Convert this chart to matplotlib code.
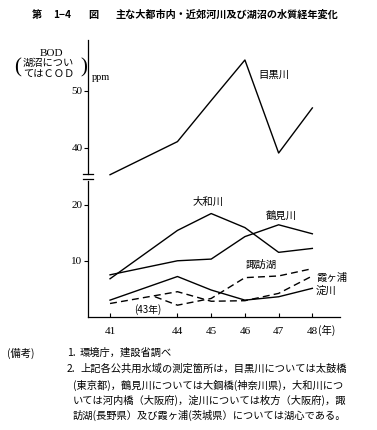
import numpy as np
import matplotlib
matplotlib.use("Agg")
import matplotlib.pyplot as plt

plt.rcParams['font.family'] = ['Liberation Serif', 'Noto Sans CJK JP', 'DejaVu Sans']

# data (昭和 years, BOD/COD ppm)
years = [41, 44, 45, 46, 47, 48]
meguro = [35.3, 41.1, 48.3, 55.4, 39.1, 47.0]
yamato = [6.8, 15.4, 18.4, 15.9, 11.5, 12.2]
tsurumi = [7.5, 10.0, 10.3, 14.3, 16.4, 14.8]
yodo = [3.0, 7.2, 4.8, 3.0, 3.6, 5.1]
kasumi = [2.4, 4.5, 2.8, 2.9, 4.2, 7.3]
suwa_years = [43, 44, 45, 46, 47, 48]
suwa = [3.6, 2.1, 3.3, 7.0, 7.3, 8.6]

tick_years = [41, 44, 45, 46, 47, 48]
tick_labels = ['41', '44', '45', '46', '47', '48']

cjk = ['Noto Sans CJK JP', 'DejaVu Sans']


# 41-44 is squeezed on the original x axis
def fwd(x):
    x = np.asarray(x, dtype=float)
    return np.where(x >= 44, x - 42, (x - 41) * 2 / 3)


def inv(t):
    t = np.asarray(t, dtype=float)
    return np.where(t >= 2, t + 42, t * 1.5 + 41)


def fx(px):
    return px / 377


def fy(py):
    return 1 - py / 430


fig = plt.figure(figsize=(3.77, 4.30), dpi=100)
left, right = fx(88), fx(340)
y_top, y_brk, y_bot = fy(40), fy(177), fy(317)
ax_up = fig.add_axes([left, y_brk, right - left, y_top - y_brk])
ax_lo = fig.add_axes([left, y_bot, right - left, y_brk - y_bot])

for ax in (ax_up, ax_lo):
    ax.set_xscale('function', functions=(fwd, inv))
    ax.set_xlim(40.02, 48.82)
    ax.spines['top'].set_visible(False)
    ax.spines['right'].set_visible(False)
    ax.tick_params(axis='y', direction='out', length=3, width=0.8, labelsize=8, pad=1)
    ax.patch.set_alpha(0)

lw = 1.0
ax_up.plot(years, meguro, color='black', lw=lw)
ax_up.set_ylim(34.9, 58.9)
ax_up.set_yticks([40, 50])
ax_up.spines['bottom'].set_visible(False)
ax_up.spines['left'].set_bounds(35.5, 58.9)
ax_up.set_xticks([])
ax_up.tick_params(axis='x', which='both', bottom=False, labelbottom=False)

ax_lo.plot(years, yamato, color='black', lw=lw)
ax_lo.plot(years, tsurumi, color='black', lw=lw)
ax_lo.plot(years, yodo, color='black', lw=lw)
ax_lo.plot(years, kasumi, color='black', lw=lw, dashes=(5, 3))
ax_lo.plot(suwa_years, suwa, color='black', lw=lw, dashes=(5, 3))
ax_lo.set_ylim(0, 24.9)
ax_lo.set_yticks([10, 20])
ax_lo.spines['left'].set_bounds(0, 24.2)
ax_lo.set_xticks(tick_years)
ax_lo.set_xticklabels(tick_labels)
ax_lo.xaxis.set_minor_locator(matplotlib.ticker.NullLocator())
ax_lo.tick_params(axis='x', direction='in', length=3, width=0.8, labelsize=8, pad=7)
fig.text(fx(318), fy(330), '(年)', fontsize=7.5, family=cjk, ha='left', va='center')

for ax in (ax_up, ax_lo):
    for s in ax.spines.values():
        s.set_linewidth(0.9)

# axis break marks
for yy in (174, 179):
    fig.add_artist(plt.Line2D([fx(83), fx(93)], [fy(yy), fy(yy)], color='black', lw=0.9))

# series labels
ax_up.text(46.87, 52.8, '目黒川', fontsize=7.5, family=cjk, ha='center', va='center')
ax_lo.text(44.91, 20.4, '大和川', fontsize=7.5, family=cjk, ha='center', va='center')
ax_lo.text(47.07, 18.0, '鶴見川', fontsize=7.5, family=cjk, ha='center', va='center')
ax_lo.text(46.48, 9.2, '諏訪湖', fontsize=7.5, family=cjk, ha='center', va='center')
ax_lo.text(48.1, 7.0, '霞ヶ浦', fontsize=7.5, family=cjk, ha='left', va='center')
ax_lo.text(48.1, 4.6, '淀川', fontsize=7.5, family=cjk, ha='left', va='center')
ax_lo.text(42.7, 1.4, '(43年)', fontsize=7, family=cjk, ha='center', va='center')

# y axis title
fig.text(fx(52), fy(53), 'BOD', fontsize=8, ha='center', va='center')
fig.text(fx(23), fy(63), '湖沼につい', fontsize=7.4, family=cjk, ha='left', va='center')
fig.text(fx(23), fy(74), 'てはＣＯＤ', fontsize=7.4, family=cjk, ha='left', va='center')
fig.text(fx(18), fy(68), '(', fontsize=15, ha='center', va='center')
fig.text(fx(84), fy(68), ')', fontsize=15, ha='center', va='center')
fig.text(fx(92), fy(77), 'ppm', fontsize=7.5, ha='left', va='center')

# title
title_kw = dict(fontsize=7.3, family=cjk, fontweight='bold', ha='left', va='center')
fig.text(fx(32), fy(15), '第', **title_kw)
fig.text(fx(53), fy(15), '1−4', **title_kw)
fig.text(fx(88), fy(15), '図', **title_kw)
fig.text(fx(115), fy(15), '主な大都市内・近郊河川及び湖沼の水質経年変化', **title_kw)

# notes
note_fs = 7.4
fig.text(fx(7), fy(353), '(備考)', fontsize=note_fs, family=cjk, ha='left', va='center')
fig.text(fx(67), fy(353), '1.', fontsize=note_fs, family=cjk, ha='left', va='center')
fig.text(fx(80), fy(353), '環境庁，建設省調べ', fontsize=note_fs, family=cjk, ha='left', va='center')
fig.text(fx(67), fy(369), '2.', fontsize=note_fs, family=cjk, ha='left', va='center')
note_lines = [
    (80, 369, '上記各公共用水域の測定箇所は，目黒川については太鼓橋'),
    (73, 385, '(東京都)，鶴見川については大鋼橋(神奈川県)，大和川につ'),
    (73, 400, 'いては河内橋（大阪府)，淀川については枚方（大阪府)，諏'),
    (73, 415, '訪湖(長野県）及び霞ヶ浦(茨城県）については湖心である。'),
]
for x, y, s in note_lines:
    fig.text(fx(x), fy(y), s, fontsize=note_fs, family=cjk, ha='left', va='center')

fig.savefig('out.png', dpi=100)
